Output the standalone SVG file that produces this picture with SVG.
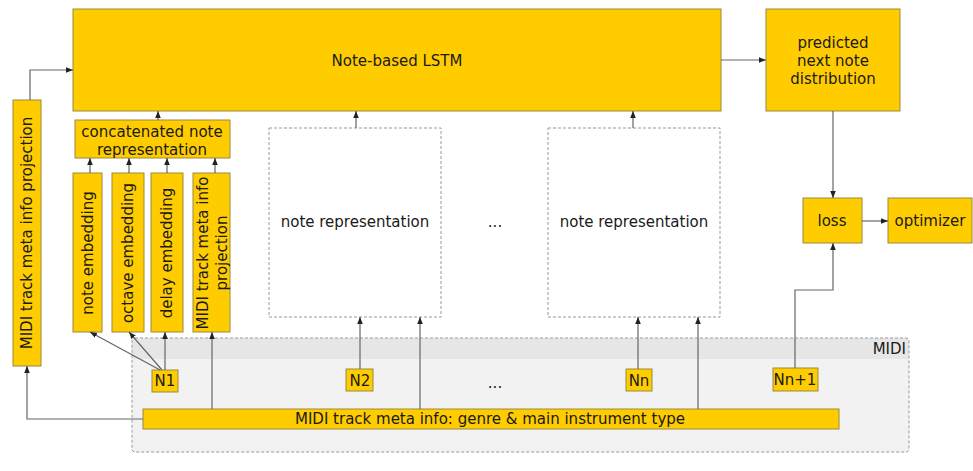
<svg xmlns="http://www.w3.org/2000/svg" width="973" height="471" viewBox="0 0 973 471">
<defs>
<marker id="ah" viewBox="0 0 8 8" refX="8" refY="4" markerWidth="7" markerHeight="7" markerUnits="userSpaceOnUse" orient="auto">
<path d="M0,0.8 L8,4 L0,7.2 Z" fill="#222"/>
</marker>
<style>
.box{fill:#ffcc00;stroke:#9a8a40;stroke-width:1}
.dash{fill:#ffffff;stroke:#999;stroke-width:1;stroke-dasharray:3,2}
.t{font-family:"DejaVu Sans","Liberation Sans",sans-serif;font-size:15px;fill:#1a1a1a;text-anchor:middle}
.c{fill:none;stroke:#666;stroke-width:1.2;marker-end:url(#ah)}
</style>
</defs>
<rect width="973" height="471" fill="#ffffff"/>
<g id="midi-group">
<rect x="132" y="338" width="777" height="114" rx="3" fill="#f2f2f2"/>
<path d="M135,338 H906 Q909,338 909,341 V359 H132 V341 Q132,338 135,338 Z" fill="#e6e6e6"/>
<rect x="132" y="338" width="777" height="114" rx="3" fill="none" stroke="#999" stroke-width="1" stroke-dasharray="3,2"/>
<text class="t" x="906" y="354" style="text-anchor:end">MIDI</text>
</g>
<g id="lstm"><rect class="box" x="73" y="9" width="648" height="102"/><text class="t" x="397" y="66">Note-based LSTM</text></g>
<g id="predicted"><rect class="box" x="766" y="9" width="134" height="102"/><text class="t" x="833" y="48">predicted</text><text class="t" x="833" y="66">next note</text><text class="t" x="833" y="84">distribution</text></g>
<g id="meta-proj-left"><rect class="box" x="13" y="100" width="28" height="266"/><text class="t" transform="translate(32,233) rotate(-90)">MIDI track meta info projection</text></g>
<g id="concat"><rect class="box" x="75" y="120" width="155" height="38"/><text class="t" x="152" y="137">concatenated note</text><text class="t" x="152" y="155">representation</text></g>
<g id="note-emb"><rect class="box" x="73" y="173" width="29" height="159"/><text class="t" transform="translate(93,253) rotate(-90)">note embedding</text></g>
<g id="octave-emb"><rect class="box" x="112" y="173" width="32" height="159"/><text class="t" transform="translate(133,253) rotate(-90)">octave embedding</text></g>
<g id="delay-emb"><rect class="box" x="151" y="173" width="32" height="159"/><text class="t" transform="translate(172,253) rotate(-90)">delay embedding</text></g>
<g id="meta-proj"><rect class="box" x="193" y="173" width="37" height="159"/><text class="t" transform="translate(208,253) rotate(-90)">MIDI track meta info</text><text class="t" transform="translate(227,253) rotate(-90)">projection</text></g>
<g id="note-rep-2"><rect class="dash" x="269" y="128" width="172" height="189"/><text class="t" x="355" y="227">note representation</text></g>
<g id="dots-top"><text class="t" x="495" y="227">...</text></g>
<g id="note-rep-n"><rect class="dash" x="548" y="128" width="172" height="189"/><text class="t" x="634" y="227">note representation</text></g>
<g id="loss"><rect class="box" x="803" y="198" width="59" height="45"/><text class="t" x="832" y="226">loss</text></g>
<g id="optimizer"><rect class="box" x="888" y="198" width="84" height="45"/><text class="t" x="930" y="226">optimizer</text></g>
<g id="n1"><rect class="box" x="152" y="370" width="26" height="22"/><text class="t" x="165" y="386">N1</text></g>
<g id="n2"><rect class="box" x="346" y="369" width="27" height="22"/><text class="t" x="360" y="386">N2</text></g>
<g id="dots-bottom"><text class="t" x="495" y="388">...</text></g>
<g id="nn"><rect class="box" x="626" y="369" width="26" height="22"/><text class="t" x="639" y="386">Nn</text></g>
<g id="nn1"><rect class="box" x="773" y="368" width="45" height="23"/><text class="t" x="795" y="385">Nn+1</text></g>
<g id="meta-bar"><rect class="box" x="143" y="409" width="696" height="20"/><text class="t" x="490" y="424">MIDI track meta info: genre &amp; main instrument type</text></g>
<g id="connectors">
<path class="c" d="M30,100 V70 H73"/>
<path class="c" d="M158,120 V111"/>
<path class="c" d="M90,173 V158"/>
<path class="c" d="M129,173 V158"/>
<path class="c" d="M167,173 V158"/>
<path class="c" d="M215,173 V158"/>
<path class="c" d="M160,370 L90,332"/>
<path class="c" d="M162,370 L129,332"/>
<path class="c" d="M165,370 V332"/>
<path class="c" d="M212,409 V332"/>
<path class="c" d="M143,419 H27 V366"/>
<path class="c" d="M356,128 V111"/>
<path class="c" d="M633,128 V111"/>
<path class="c" d="M360,369 V317"/>
<path class="c" d="M420,409 V317"/>
<path class="c" d="M638,369 V317"/>
<path class="c" d="M698,409 V317"/>
<path class="c" d="M721,60 H766"/>
<path class="c" d="M833,111 V198"/>
<path class="c" d="M862,221 H888"/>
<path class="c" d="M795,368 V290 H833 V243"/>
</g>
</svg>
